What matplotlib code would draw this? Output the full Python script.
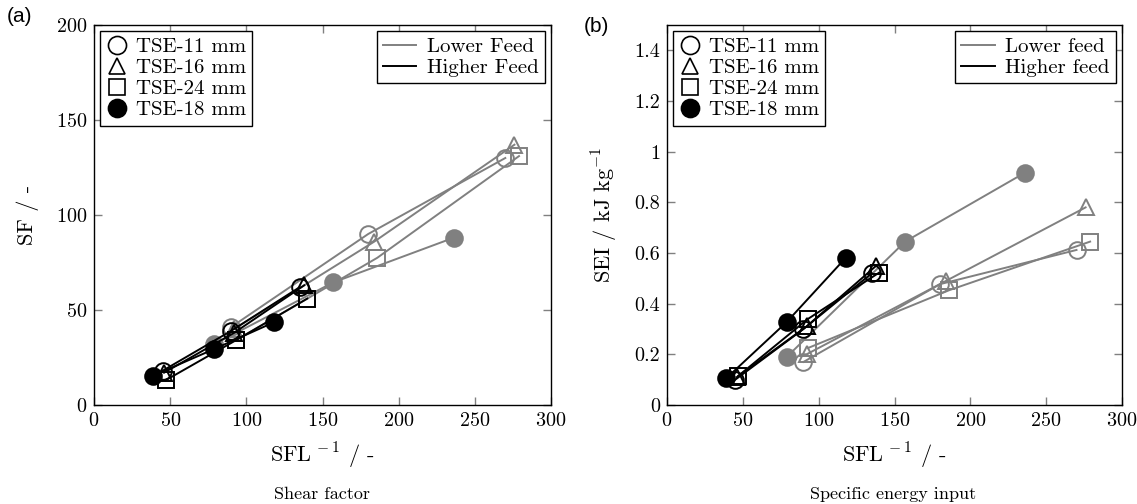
import matplotlib
matplotlib.use("Agg")
import matplotlib.pyplot as plt
from matplotlib.lines import Line2D
from matplotlib.ticker import FuncFormatter

plt.rcParams['font.family'] = ['cmr10', 'DejaVu Serif']
plt.rcParams['mathtext.fontset'] = 'cm'
plt.rcParams['axes.formatter.use_mathtext'] = True

# ---- data ----
x_low_11 = [90, 180, 270]
x_high_11 = [45, 90, 135]
x_low_16 = [92, 184, 276]
x_high_16 = [46, 92, 138]
x_low_24 = [93, 186, 279]
x_high_24 = [47, 93, 140]
x_low_18 = [79, 157, 236]
x_high_18 = [39, 79, 118]

sf_low_11 = [41, 90, 130]
sf_high_11 = [18, 39, 62]
sf_low_16 = [40, 86, 137]
sf_high_16 = [17, 38, 63]
sf_low_24 = [34, 77.5, 131]
sf_high_24 = [13, 34, 56]
sf_low_18 = [32, 64.5, 88]
sf_high_18 = [15.5, 29.5, 43.5]

sei_low_11 = [0.17, 0.477, 0.612]
sei_high_11 = [0.10, 0.30, 0.52]
sei_low_16 = [0.20, 0.49, 0.78]
sei_high_16 = [0.11, 0.31, 0.55]
sei_low_24 = [0.225, 0.453, 0.645]
sei_high_24 = [0.115, 0.34, 0.523]
sei_low_18 = [0.19, 0.645, 0.917]
sei_high_18 = [0.105, 0.328, 0.582]

labels = ['TSE-11 mm', 'TSE-16 mm', 'TSE-24 mm', 'TSE-18 mm']
xticks = [0, 50, 100, 150, 200, 250, 300]
sf_ticks = [0, 50, 100, 150, 200]
sei_ticks = [0, 0.2, 0.4, 0.6, 0.8, 1.0, 1.2, 1.4]

GRAY = '#808080'
markers = ['o', '^', 's', 'o']
msizes = [12, 11, 11, 12]
filled = [False, False, False, True]

fig = plt.figure(figsize=(11.37, 5.04), dpi=100)
W, H = 1137, 504
axL = fig.add_axes([94 / W, 1 - 405 / H, 457 / W, 380 / H])
axR = fig.add_axes([667 / W, 1 - 405 / H, 455 / W, 380 / H])

low_x = [x_low_11, x_low_16, x_low_24, x_low_18]
high_x = [x_high_11, x_high_16, x_high_24, x_high_18]
sf_low = [sf_low_11, sf_low_16, sf_low_24, sf_low_18]
sf_high = [sf_high_11, sf_high_16, sf_high_24, sf_high_18]
sei_low = [sei_low_11, sei_low_16, sei_low_24, sei_low_18]
sei_high = [sei_high_11, sei_high_16, sei_high_24, sei_high_18]


def draw(ax, ylow, yhigh):
    for i in range(4):
        fc = GRAY if filled[i] else 'none'
        ax.plot(low_x[i], ylow[i], color=GRAY, lw=1.4, marker=markers[i],
                ms=msizes[i], mfc=fc, mec=GRAY, mew=1.4, zorder=2)
    for i in range(4):
        fc = 'black' if filled[i] else 'none'
        ax.plot(high_x[i], yhigh[i], color='black', lw=1.4, marker=markers[i],
                ms=msizes[i], mfc=fc, mec='black', mew=1.4, zorder=3)


draw(axL, sf_low, sf_high)
draw(axR, sei_low, sei_high)

for ax in (axL, axR):
    ax.set_xlim(0, 300)
    ax.set_xticks(xticks)
    ax.tick_params(direction='in', top=True, right=True, length=6, width=1,
                   color=GRAY, labelsize=14.5, pad=5)
    for s in ax.spines.values():
        s.set_linewidth(1.0)
        s.set_color('black')
    ax.set_xlabel(r'SFL$^{\,-1}$ / -', fontsize=16, labelpad=8)

axL.set_ylim(0, 200)
axL.set_yticks(sf_ticks)
axL.set_ylabel('SF / -', fontsize=16, labelpad=12)

axR.set_ylim(0, 1.5)
axR.set_yticks(sei_ticks)
axR.yaxis.set_major_formatter(FuncFormatter(lambda v, p: ('%g' % round(v, 2))))
axR.set_ylabel(r'SEI / kJ kg$^{-1}$', fontsize=16, labelpad=10)

# legends
for ax, lab_low, lab_high in ((axL, 'Lower Feed', 'Higher Feed'),
                             (axR, 'Lower feed', 'Higher feed')):
    mh = [Line2D([], [], ls='none', marker=markers[i], ms=msizes[i] + 1,
                 mfc='black' if filled[i] else 'none', mec='black', mew=1.2)
          for i in range(4)]
    leg1 = ax.legend(mh, labels, loc='upper left', fontsize=15, frameon=True,
                     fancybox=False, edgecolor='black', framealpha=1,
                     borderpad=0.3, handlelength=1.0, handletextpad=0.4,
                     labelspacing=0.12, borderaxespad=0.3)
    leg1.get_frame().set_linewidth(1.0)
    ax.add_artist(leg1)
    lh = [Line2D([], [], color=GRAY, lw=1.4), Line2D([], [], color='black', lw=1.4)]
    leg2 = ax.legend(lh, [lab_low, lab_high], loc='upper right', fontsize=15,
                     frameon=True, fancybox=False, edgecolor='black',
                     framealpha=1, borderpad=0.3, handlelength=1.6,
                     handletextpad=0.5, labelspacing=0.12, borderaxespad=0.3)
    leg2.get_frame().set_linewidth(1.0)

fig.text(7 / W, 1 - 16 / H, '(a)', fontsize=15, family='Liberation Sans',
         va='center', ha='left')
fig.text(584 / W, 1 - 26 / H, '(b)', fontsize=15, family='Liberation Sans',
         va='center', ha='left')
fig.text(322 / W, 1 - 494 / H, 'Shear factor', fontsize=13, ha='center', va='center')
fig.text(893 / W, 1 - 494 / H, 'Specific energy input', fontsize=13, ha='center', va='center')

fig.savefig('out.png', dpi=100)
